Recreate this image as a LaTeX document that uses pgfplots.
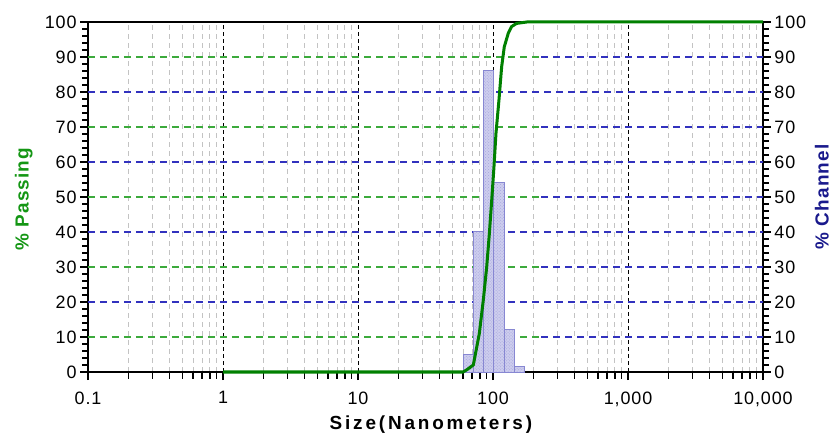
\documentclass[border=0pt]{standalone}
\usepackage{pgfplots}
\pgfplotsset{compat=1.18}
\usepackage{fontspec}
\setmainfont{Liberation Sans}
\usetikzlibrary{patterns}
\definecolor{curvegreen}{RGB}{0,128,0}
\definecolor{gridgreen}{RGB}{60,170,60}
\definecolor{gridblue}{RGB}{50,50,190}
\definecolor{barfill}{RGB}{205,205,238}
\definecolor{bardots}{RGB}{165,165,220}
\definecolor{bardraw}{RGB}{135,135,210}
\definecolor{labgreen}{RGB}{20,150,20}
\definecolor{labblue}{RGB}{25,25,140}
\definecolor{mgray}{RGB}{195,195,195}
\pgfplotsset{
  mycommon/.style={
    at={(88bp,65bp)}, anchor=south west,
    scale only axis, width=675bp, height=350bp,
    xmin=0.1, xmax=10000, ymin=0, ymax=100,
    tick align=outside,
    major tick length=8bp, minor tick length=6bp,
    every tick/.style={black, line width=1.2bp},
    every minor tick/.style={black, line width=1.2bp},
    ytick={0,10,...,100}, minor y tick num=4,
    /pgf/number format/assume math mode=true,
    tick label style={font=\fontsize{18}{20}\selectfont\addfontfeature{LetterSpace=5}},
    axis line style={line width=1.5bp},
  }
}
\begin{document}
\begin{tikzpicture}
\useasboundingbox (0,0) rectangle (832bp,437bp);
% right axis: %Channel ticks and label
\begin{axis}[xmode=log, mycommon,
  axis x line=none, axis y line*=right, ytick pos=right,
  ylabel={\% Channel},
  ylabel style={at={(axis description cs:1.087,0.50)}, anchor=center,
    font=\fontsize{19}{21}\selectfont\bfseries\addfontfeature{LetterSpace=6}, text=labblue},
]
\addplot[draw=none] coordinates {(1,0) (10,10)};
\end{axis}
% left axis with data
\begin{axis}[xmode=log, mycommon, clip=false,
  xtick={0.1,1,10,100,1000,10000},
  xticklabels={0.1,1,10,100,{1,000},{10,000}},
  minor xtick={0.2,0.3,0.4,0.5,0.6,0.7,0.8,0.9,2,3,4,5,6,7,8,9,20,30,40,50,60,70,80,90,200,300,400,500,600,700,800,900,2000,3000,4000,5000,6000,7000,8000,9000},
  xtick pos=left, ytick pos=left,
  xtick align=outside,
  xticklabel style={yshift=-8bp},
  xmajorgrids, xminorgrids,
  major x grid style={black, line width=1bp, dash pattern=on 4bp off 3bp},
  minor x grid style={mgray, line width=1bp, dash pattern=on 5bp off 4bp},
  ylabel={\% Passing},
  ylabel style={at={(axis description cs:-0.095,0.494)}, anchor=center,
    font=\fontsize{19}{21}\selectfont\bfseries\addfontfeature{LetterSpace=6}, text=labgreen},
  xlabel={Size(Nanometers)},
  xlabel style={at={(axis description cs:0.508,-0.149)}, anchor=center,
    font=\fontsize{19}{21}\selectfont\bfseries\addfontfeature{LetterSpace=15}},
]
\pgfplotsinvokeforeach{10,30,50,70,90}{
  \draw[gridgreen, line width=1.3bp, dash pattern=on 7bp off 5bp] (axis cs:0.1,#1) -- (axis cs:227,#1);
  \draw[gridblue, line width=1.3bp, dash pattern=on 7bp off 5bp] (axis cs:227,#1) -- (axis cs:10000,#1);
}
\pgfplotsinvokeforeach{20,40,60,80}{
  \draw[gridblue, line width=1.3bp, dash pattern=on 7bp off 5bp] (axis cs:0.1,#1) -- (axis cs:10000,#1);
}
% tick marks of the bottom axis
\pgfplotsinvokeforeach{0.1,1,10,100,1000,10000}{
  \draw[black, line width=1.3bp] (axis cs:#1,0) -- (axis cs:#1,-2.4);
}
\pgfplotsinvokeforeach{0.2,0.3,0.4,0.5,0.6,0.7,0.8,0.9,2,3,4,5,6,7,8,9,20,30,40,50,60,70,80,90,200,300,400,500,600,700,800,900,2000,3000,4000,5000,6000,7000,8000,9000}{
  \draw[black, line width=1.3bp] (axis cs:#1,0) -- (axis cs:#1,-1.9);
}
\addplot[ybar interval, fill=barfill, draw=bardraw, line width=1bp,
  postaction={pattern=crosshatch dots, pattern color=bardots}]
  coordinates {(60,5) (71.5,40) (85,86) (101,54) (121,12) (144,1.5) (172,0)};
\addplot[curvegreen, line width=3bp, line join=round]
  coordinates {(1,0) (60,0) (63.8,0.6) (71.5,2) (79.2,11) (84.8,20.6) (89.8,30)
   (94,39.6) (97.8,49) (101.7,58.7) (105.2,68.2) (110.7,77.7) (115.9,87.2)
   (121.2,92.9) (129.8,96.8) (137.4,98.7) (149.6,99.6) (178,100) (10000,100)};
\end{axis}
\end{tikzpicture}
\end{document}
